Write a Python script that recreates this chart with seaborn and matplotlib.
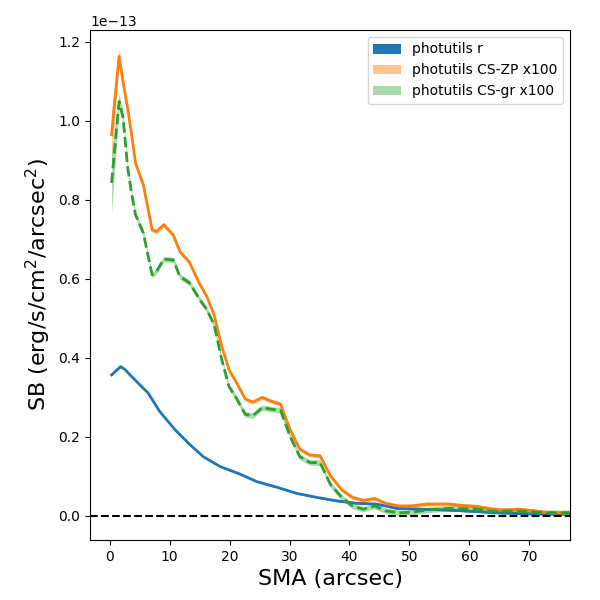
import numpy as np
import pandas as pd
import seaborn as sns
import matplotlib
matplotlib.use("Agg")
import matplotlib.pyplot as plt

# SMA grid (arcsec) and surface brightness profiles (units of 1e-13)
sma_r = [0.3, 1.8, 2.5, 3.9, 5.6, 6.4, 8.35, 10.9, 13.4, 15.6, 18.4, 21.7,
         24.5, 27.8, 31.2, 34.5, 37.9, 41.2, 44.5, 47.9, 56.2, 64.6, 70.2, 76.8]
sb_r = [0.357, 0.378, 0.371, 0.349, 0.323, 0.311, 0.264, 0.218, 0.180, 0.150,
        0.125, 0.106, 0.087, 0.073, 0.057, 0.047, 0.038, 0.032, 0.030, 0.019,
        0.015, 0.008, 0.005, 0.005]
err_r = [0.002] * len(sma_r)

sma_cs = [0.3, 1.55, 2.2, 3.0, 3.6, 4.3, 5.6, 7.07, 7.8, 9.0, 10.6, 11.7, 13.3,
          14.9, 16.2, 17.4, 18.7, 19.9, 21.2, 22.6, 23.9, 25.4, 27.0, 28.5,
          30.1, 31.7, 33.4, 35.1, 36.8, 38.7, 40.5, 42.3, 44.2, 46.0, 48.2,
          50.4, 52.9, 56.5, 59.0, 61.3, 63.5, 65.7, 68.2, 70.7, 73.0, 76.8]
sb_zp = [0.965, 1.163, 1.10, 1.03, 0.97, 0.893, 0.838, 0.724, 0.72, 0.737,
         0.711, 0.669, 0.642, 0.59, 0.555, 0.509, 0.429, 0.370, 0.336, 0.296,
         0.288, 0.300, 0.290, 0.283, 0.218, 0.169, 0.154, 0.152, 0.102, 0.066,
         0.047, 0.039, 0.044, 0.032, 0.025, 0.025, 0.030, 0.030, 0.026, 0.024,
         0.018, 0.015, 0.017, 0.013, 0.008, 0.007]
err_zp = [0.06, 0.02, 0.015, 0.01, 0.008, 0.008, 0.006, 0.006, 0.006, 0.006,
          0.006, 0.006, 0.005, 0.005, 0.005, 0.005, 0.005, 0.005, 0.005, 0.005,
          0.005, 0.005, 0.005, 0.005, 0.005, 0.005, 0.005, 0.005, 0.005, 0.005,
          0.005, 0.005, 0.005, 0.005, 0.005, 0.005, 0.005, 0.005, 0.005, 0.005,
          0.005, 0.005, 0.005, 0.005, 0.005, 0.005]
sb_gr = [0.843, 1.049, 1.01, 0.88, 0.82, 0.762, 0.716, 0.610, 0.619, 0.650,
         0.648, 0.606, 0.590, 0.550, 0.522, 0.484, 0.395, 0.327, 0.296, 0.257,
         0.254, 0.274, 0.270, 0.267, 0.201, 0.150, 0.135, 0.135, 0.080, 0.047,
         0.025, 0.017, 0.025, 0.013, 0.008, 0.009, 0.015, 0.019, 0.018, 0.017,
         0.012, 0.012, 0.012, 0.010, 0.008, 0.008]
err_gr = [0.075, 0.02, 0.015, 0.01, 0.008, 0.008, 0.007, 0.007, 0.007, 0.007,
          0.007, 0.007, 0.007, 0.007, 0.007, 0.007, 0.007, 0.007, 0.007, 0.007,
          0.007, 0.007, 0.007, 0.007, 0.007, 0.007, 0.007, 0.007, 0.007, 0.007,
          0.007, 0.007, 0.007, 0.007, 0.007, 0.007, 0.007, 0.007, 0.007, 0.007,
          0.007, 0.007, 0.007, 0.007, 0.007, 0.007]

scale = 1e-13
r = pd.DataFrame({"sma": sma_r, "sb": np.array(sb_r) * scale,
                  "err": np.array(err_r) * scale})
cs = pd.DataFrame({"sma": sma_cs,
                   "zp": np.array(sb_zp) * scale, "zp_err": np.array(err_zp) * scale,
                   "gr": np.array(sb_gr) * scale, "gr_err": np.array(err_gr) * scale})

fig, ax = plt.subplots(figsize=(6, 6), dpi=100)

ax.fill_between(r["sma"], r["sb"] - r["err"], r["sb"] + r["err"],
                color="C0", lw=0, label="photutils r")
sns.lineplot(data=r, x="sma", y="sb", color="C0", lw=2, ax=ax, legend=False)

ax.fill_between(cs["sma"], cs["zp"] - cs["zp_err"], cs["zp"] + cs["zp_err"],
                color="C1", alpha=0.45, lw=0, label="photutils CS-ZP x100")
sns.lineplot(data=cs, x="sma", y="zp", color="C1", lw=2, ax=ax, legend=False)

ax.fill_between(cs["sma"], cs["gr"] - cs["gr_err"], cs["gr"] + cs["gr_err"],
                color="C2", alpha=0.4, lw=0, label="photutils CS-gr x100")
sns.lineplot(data=cs, x="sma", y="gr", color="C2", lw=2, ls="--", ax=ax, legend=False)

ax.axhline(0, color="k", ls="--", lw=1.5)

ax.set_xlim(-3.3, 76.8)
ax.set_ylim(-0.061e-13, 1.23e-13)
ax.set_xlabel("SMA (arcsec)", fontsize=16)
ax.set_ylabel("SB (erg/s/cm$^2$/arcsec$^2$)", fontsize=16)
ax.legend(loc="upper right")

plt.subplots_adjust(left=0.15, right=0.95, top=0.95, bottom=0.1)
plt.savefig("out.png", dpi=100)
